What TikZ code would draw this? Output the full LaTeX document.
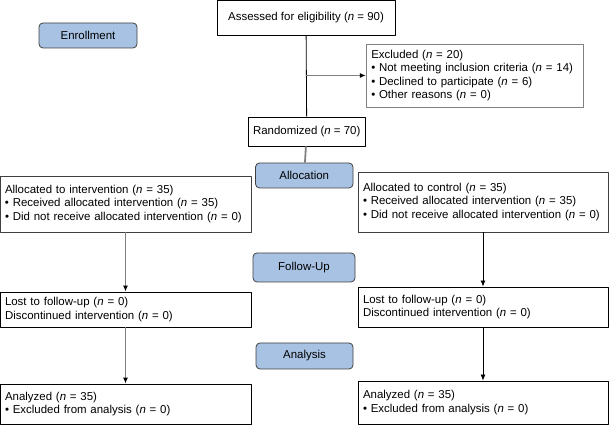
\documentclass[tikz,border=0pt]{standalone}
\usepackage{fontspec}
\setmainfont{Liberation Sans}
\usepackage{tikz}
\usetikzlibrary{arrows.meta}

\definecolor{stagefill}{rgb}{0.66,0.76,0.89}
\definecolor{stageline}{rgb}{0.25,0.25,0.25}
\definecolor{linegray}{rgb}{0.5,0.5,0.5}
\newcommand{\nn}{\textit{n}}

\begin{document}
\begin{tikzpicture}[>={Latex[length=6bp,width=5bp,black]},line join=bevel,
  font=\fontsize{11.5}{13.2}\selectfont,
  stage/.style={draw=stageline,fill=stagefill,rounded corners=4bp,line width=0.8bp,minimum height=25bp,inner sep=0pt},
  box/.style={draw,rectangle,line width=0.8bp,align=left,inner xsep=5bp,inner ysep=0pt},
  grayline/.style={draw=linegray,line width=1.8bp},
  blackline/.style={draw=black,line width=0.8bp}]
%%
\useasboundingbox (0bp,0bp) rectangle (609bp,425bp);
%% stage labels
  \node (enroll) at (88bp,389.5bp) [stage,minimum width=98bp] {Enrollment};
  \node (alloc) at (304.25bp,249.5bp) [stage,minimum width=97.5bp] {Allocation};
  \node (follow) at (304bp,157.5bp) [stage,minimum width=102bp,minimum height=29bp] {Follow-Up};
  \node (analysis) at (304.5bp,69bp) [stage,minimum width=97bp,minimum height=26bp] {Analysis};
%% enrollment
  \node (assess) at (306bp,407.5bp) [box,align=center,minimum width=178bp,minimum height=35bp] {Assessed for eligibility (\nn{} = 90)};
  \node (excl) at (474.75bp,349.5bp) [box,draw=linegray,text width=207bp,minimum height=63bp] {Excluded (\nn{} = 20)\\ • Not meeting inclusion criteria (\nn{} = 14)\\ • Declined to participate (\nn{} = 6)\\ • Other reasons (\nn{} = 0)};
  \node (rand) at (306.75bp,293.5bp) [box,align=center,inner xsep=1bp,minimum width=116.5bp,minimum height=29bp] {Randomized (\nn{} = 70)};
  \coordinate (split) at (assess |- excl);
%% intervention arm
  \node (allocI) at (125.5bp,221bp) [box,draw=stageline,text width=241bp,minimum height=56bp] {Allocated to intervention (\nn{} = 35)\\ • Received allocated intervention (\nn{} = 35)\\ • Did not receive allocated intervention (\nn{} = 0)};
  \node (lostI) at (125.5bp,115.5bp) [box,text width=241bp,minimum height=35bp] {Lost to follow-up (\nn{} = 0)\\ Discontinued intervention (\nn{} = 0)};
  \node (anaI) at (125.5bp,21bp) [box,text width=241bp,minimum height=40bp] {Analyzed (\nn{} = 35)\\ • Excluded from analysis (\nn{} = 0)};
%% control arm
  \node (allocC) at (483bp,223bp) [box,draw=stageline,text width=240bp,minimum height=60bp] {Allocated to control (\nn{} = 35)\\ • Received allocated intervention (\nn{} = 35)\\ • Did not receive allocated intervention (\nn{} = 0)};
  \node (lostC) at (483bp,118bp) [box,text width=240bp,minimum height=40bp] {Lost to follow-up (\nn{} = 0)\\ Discontinued intervention (\nn{} = 0)};
  \node (anaC) at (483bp,22.5bp) [box,text width=240bp,minimum height=43bp] {Analyzed (\nn{} = 35)\\ • Excluded from analysis (\nn{} = 0)};
%% connectors
  \draw [blackline] (assess) -- (rand);
  \draw [->,grayline] (split) -- (excl);
  \draw [grayline] (rand) -- (alloc);
  \draw [->,grayline] (allocI) -- (lostI);
  \draw [->,grayline] (lostI) -- (anaI);
  \draw [->,blackline] (allocC) -- (lostC);
  \draw [->,blackline] (lostC) -- (anaC);
%
\end{tikzpicture}
\end{document}
